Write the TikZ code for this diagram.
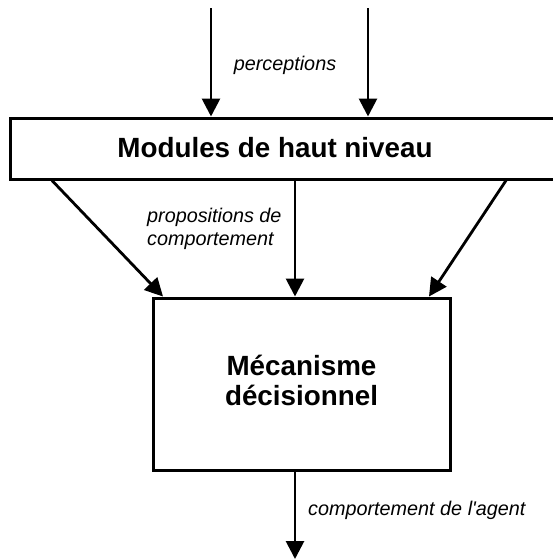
\documentclass[tikz,border=0pt]{standalone}
\usepackage{fontspec}
\setmainfont{Liberation Sans}
\usetikzlibrary{arrows.meta}
\tikzset{
  box/.style={draw=black, line width=3pt, fill=white, inner sep=0pt},
  arr/.style={draw=black, line width=2.8pt, -{Triangle[length=18pt,width=18pt]}},
  bigtext/.style={font=\fontsize{27.8pt}{30pt}\selectfont\bfseries, inner sep=0pt, anchor=base},
  smalltext/.style={font=\fontsize{19.8pt}{23pt}\selectfont\itshape, inner sep=0pt},
}
\begin{document}
\begin{tikzpicture}[x=1pt,y=-1pt]
\useasboundingbox (0,0) rectangle (553,560);
% boxes
\node[box, minimum width=546pt, minimum height=61pt] (hl) at (283,148.5) {};
\node[bigtext] (hltext) at (275,157) {Modules de haut niveau};
\node[box, minimum width=297pt, minimum height=172pt] (dm) at (301.5,384) {};
\node[bigtext] (dm1) at (301.5,375) {Mécanisme};
\node[bigtext] (dm2) at (301.5,405) {décisionnel};
% free ends and columns
\coordinate (in1) at (211,8);
\coordinate (in2) at (368,8);
\coordinate (xa) at (52,0);
\coordinate (xb) at (163,0);
\coordinate (xc) at (295,0);
\coordinate (xd) at (506,0);
\coordinate (xe) at (429,0);
\coordinate (out) at (295,559);
% arrows
\draw[arr] (in1) -- (in1 |- hl.north);
\draw[arr] (in2) -- (in2 |- hl.north);
\draw[arr] (xa |- hl.south) -- (xb |- dm.north);
\draw[arr] (xc |- hl.south) -- (xc |- dm.north);
\draw[arr] (xd |- hl.south) -- (xe |- dm.north);
\draw[arr] (xc |- dm.south) -- (out);
% labels
\node[smalltext, anchor=base] (lperc) at (285,70) {perceptions};
\node[smalltext, anchor=base west] (lprop1) at (147,222) {propositions de};
\node[smalltext, anchor=base west] (lprop2) at (147,245) {comportement};
\node[smalltext, anchor=base west] (lagent) at (308,515) {comportement de l\textquotesingle agent};
\end{tikzpicture}
\end{document}
